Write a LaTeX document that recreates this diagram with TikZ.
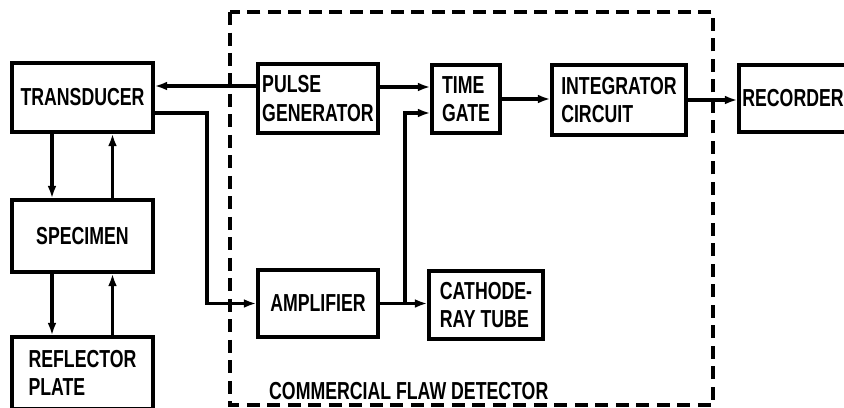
\documentclass[tikz,border=0pt]{standalone}
\usepackage{fontspec}
\setmainfont{Liberation Sans}[FakeStretch=0.72]
\usepackage{tikz}
\usetikzlibrary{arrows.meta, positioning, calc}
\tikzstyle{block}=[draw, line width=2pt, font=\bfseries\fontsize{14}{16}\selectfont,
                   align=left, inner sep=1pt]
\tikzstyle{arrow}=[-{Latex[length=7pt,width=5pt]}, line width=2pt]
\tikzstyle{frame}=[line width=2pt, dash pattern=on 0.26cm off 0.15cm]

\begin{document}
\begin{tikzpicture}[x=0.02cm, y=-0.02cm]
  \useasboundingbox (0,0) rectangle (844,407);
  \begin{scope}
  \clip (0,0) rectangle (844,407);
  % left column
  \node[block, minimum width=2.82cm, minimum height=1.38cm] (trans) at (82.5,97.5) {TRANSDUCER};
  \node[block, minimum width=2.82cm, minimum height=1.44cm] (spec) at (82.5,236) {SPECIMEN};
  \node[block, minimum width=2.82cm, minimum height=1.44cm] (refl) at (82.5,373) {REFLECTOR\\PLATE};
  % flaw detector
  \node[block, minimum width=2.40cm, minimum height=1.38cm] (pulse) at (318,98.5) {PULSE\\GENERATOR};
  \node[block, minimum width=1.36cm, minimum height=1.36cm] (gate) at (466,99) {TIME\\GATE};
  \node[block, minimum width=2.68cm, minimum height=1.40cm] (integ) at (619,100) {INTEGRATOR\\CIRCUIT};
  \node[block, minimum width=2.40cm, minimum height=1.34cm] (amp) at (318,303.5) {AMPLIFIER};
  \node[block, minimum width=2.28cm, minimum height=1.36cm] (crt) at (486,305) {CATHODE-\\RAY TUBE};
  \node[block, minimum width=2.16cm, minimum height=1.34cm] (rec) at (793,98.5) {RECORDER};

  \draw[frame] (230,12) rectangle (713,405);
  \node[anchor=west, font=\bfseries\fontsize{14}{16}\selectfont] (label) at (263,391) {COMMERCIAL FLAW DETECTOR};

  % connectors
  \draw[arrow] ($(pulse.west)+(0,-12.5)$) coordinate (p1) -- (p1 -| trans.east);
  \draw[arrow] ($(trans.east)+(0,15.5)$) -- ++(52,0) |- (amp.west);
  \draw[arrow] ($(trans.south)+(-30.5,0)$) -- ($(spec.north)+(-30.5,0)$);
  \draw[arrow] ($(spec.north)+(30,0)$) -- ($(trans.south)+(30,0)$);
  \draw[arrow] ($(spec.south)+(-30.5,0)$) -- ($(refl.north)+(-30.5,0)$);
  \draw[arrow] ($(refl.north)+(30,0)$) -- ($(spec.south)+(30,0)$);
  \draw[arrow] ($(pulse.east)+(0,-11.5)$) coordinate (p2) -- (p2 -| gate.west);
  \draw[arrow] (amp.east) -- (amp.east -| crt.west);
  \draw[arrow] ($(amp.east)+(25,0)$) |- ($(gate.west)+(0,14)$);
  \draw[arrow] (gate.east) -- (gate.east -| integ.west);
  \draw[arrow] (integ.east) -- (integ.east -| rec.west);
  \end{scope}
\end{tikzpicture}
\end{document}
